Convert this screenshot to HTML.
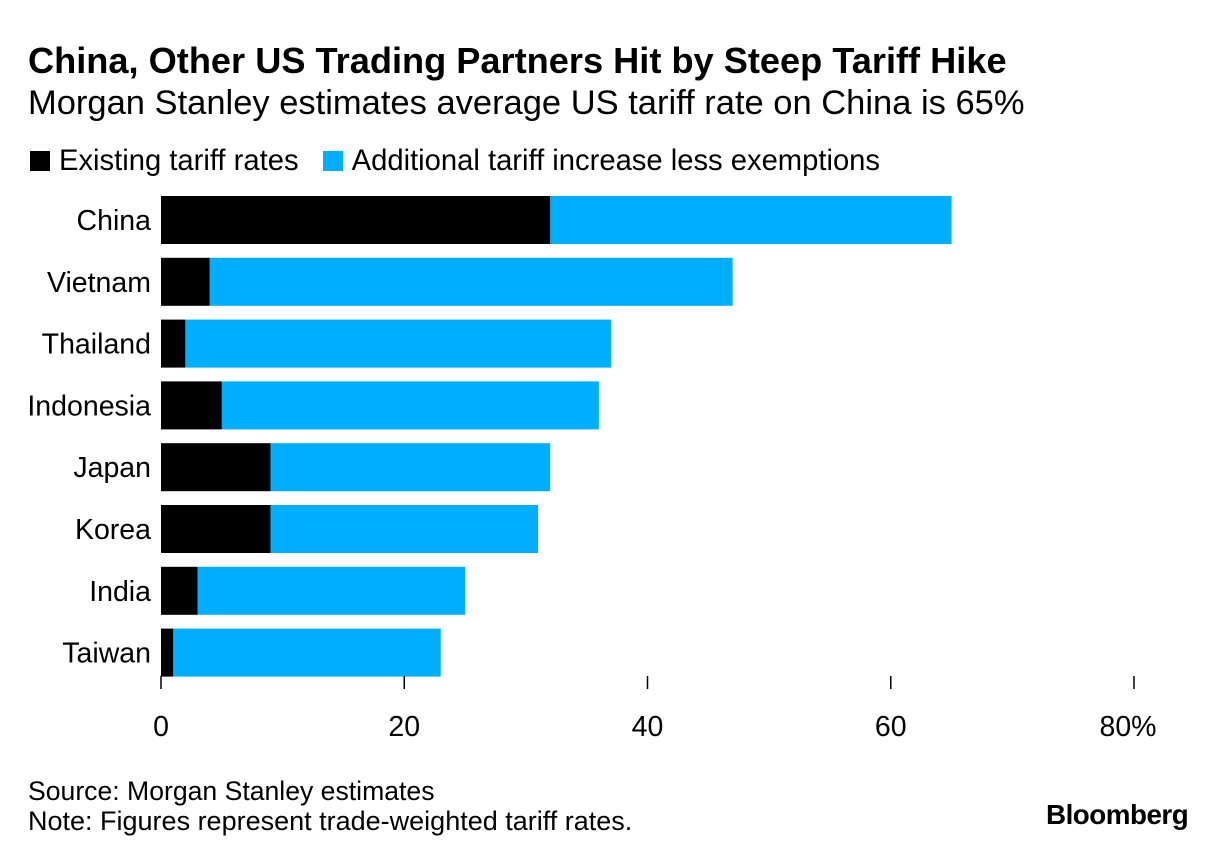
<!DOCTYPE html>
<html><head><meta charset="utf-8"><style>
body{margin:0;width:1225px;height:860px;background:#fff;font-family:"Liberation Sans",Arial,sans-serif;overflow:hidden;position:relative}
.t{position:absolute;white-space:nowrap;color:#000}
</style></head><body>
<div class="t" style="left:28px;top:40px;font-size:36.2px;font-weight:bold;letter-spacing:0px">China, Other US Trading Partners Hit by Steep Tariff Hike</div>
<div class="t" style="left:28px;top:84px;font-size:34.5px;">Morgan Stanley estimates average US tariff rate on China is 65%</div>
<div style="position:absolute;left:30px;top:145px;font-size:29.2px;">
<span><span style="display:inline-block;width:20px;height:20px;background:#000;vertical-align:-1px;margin-right:9px"></span>Existing tariff rates</span>
<span style="margin-left:16px"><span style="display:inline-block;width:20px;height:20px;background:#00aeff;vertical-align:-1px;margin-right:9px"></span>Additional tariff increase less exemptions</span>
</div>
<svg id="chart" width="1225" height="860" style="position:absolute;left:0;top:0"></svg>
<div class="t" style="left:28px;top:776px;font-size:26.6px;">Source: Morgan Stanley estimates</div>
<div class="t" style="left:28px;top:806px;font-size:27px;">Note: Figures represent trade-weighted tariff rates.</div>
<div class="t" style="left:1046px;top:799px;font-size:27.8px;font-weight:bold;letter-spacing:-0.5px">Bloomberg</div>
<script>
const categories=["China","Vietnam","Thailand","Indonesia","Japan","Korea","India","Taiwan"];
const existing=[32,4,2,5,9,9,3,1];
const totals=[65,47,37,36,32,31,25,23];
const ticks=[0,20,40,60,80];
const tickLabels=["0","20","40","60","80%"];
const NS="http://www.w3.org/2000/svg";
const svg=document.getElementById("chart");
const x=v=>161+v*(1134-161)/80;
const y=i=>196+i*61.8;
const bh=48;
function mk(tag,attrs){const e=document.createElementNS(NS,tag);for(const k in attrs)e.setAttribute(k,attrs[k]);svg.appendChild(e);return e;}
categories.forEach((c,i)=>{
  const a=mk("rect",{x:x(existing[i]),y:y(i),width:x(totals[i])-x(existing[i]),height:bh,fill:"#00aeff"});
  
  
  const b=mk("rect",{x:x(0),y:y(i),width:x(existing[i])-x(0),height:bh,fill:"#000"});
  
  
  const t=mk("text",{x:151,y:y(i)+bh/2+10,"text-anchor":"end","font-size":"28.5","font-family":"Liberation Sans, Arial, sans-serif"});
  t.textContent=c;
  
  
});
ticks.forEach((v,i)=>{
  const l=mk("line",{x1:x(v),x2:x(v),y1:676,y2:689,stroke:"#000","stroke-width":"1.5"});
  
  
  const t=mk("text",{x:x(v)+(i===ticks.length-1?-6:0),y:736,"text-anchor":"middle","font-size":"28.5","font-family":"Liberation Sans, Arial, sans-serif"});
  t.textContent=tickLabels[i];
  
  
});
</script>
</body></html>
